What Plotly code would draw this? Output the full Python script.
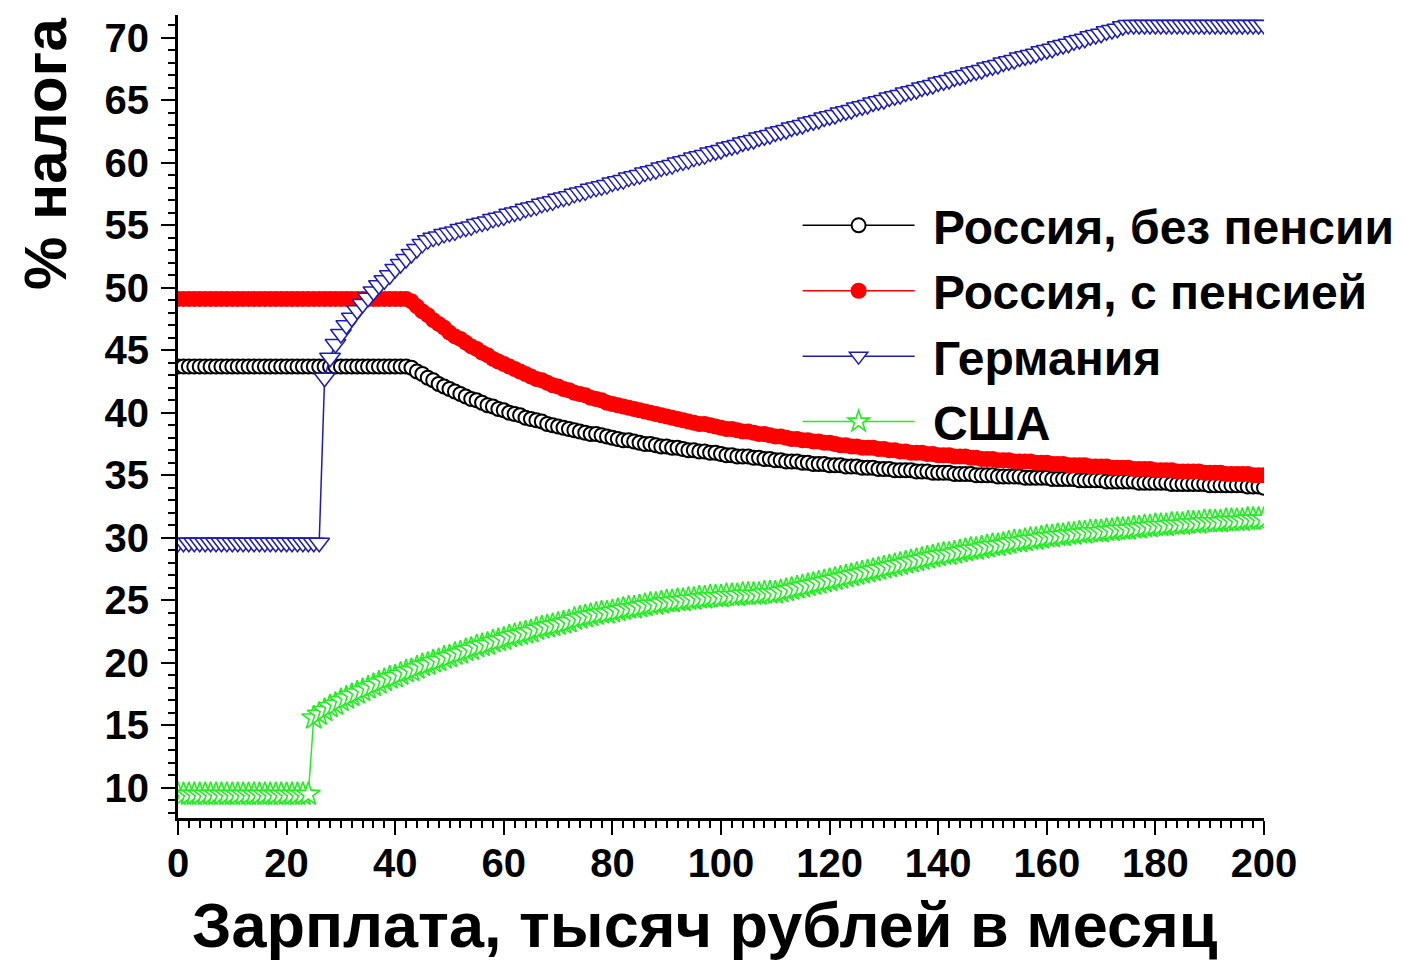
import plotly.graph_objects as go

salary_k = list(range(0, 201))

russia_no_pension = [
    43.7, 43.7, 43.7, 43.7, 43.7, 43.7, 43.7, 43.7, 43.7, 43.7,
    43.7, 43.7, 43.7, 43.7, 43.7, 43.7, 43.7, 43.7, 43.7, 43.7,
    43.7, 43.7, 43.7, 43.7, 43.7, 43.7, 43.7, 43.7, 43.7, 43.7,
    43.7, 43.7, 43.7, 43.7, 43.7, 43.7, 43.7, 43.7, 43.7, 43.7,
    43.7, 43.7, 43.7, 43.6, 43.3, 43.1, 42.8, 42.6, 42.3, 42.1,
    41.9, 41.7, 41.5, 41.3, 41.1, 41.0, 40.8, 40.6, 40.5, 40.3,
    40.2, 40.0, 39.9, 39.8, 39.6, 39.5, 39.4, 39.3, 39.1, 39.0,
    38.9, 38.8, 38.7, 38.6, 38.5, 38.4, 38.3, 38.3, 38.2, 38.1,
    38.0, 37.9, 37.8, 37.8, 37.7, 37.6, 37.5, 37.5, 37.4, 37.3,
    37.3, 37.2, 37.2, 37.1, 37.0, 37.0, 36.9, 36.9, 36.8, 36.8,
    36.7, 36.6, 36.6, 36.5, 36.5, 36.5, 36.4, 36.4, 36.3, 36.3,
    36.2, 36.2, 36.1, 36.1, 36.1, 36.0, 36.0, 35.9, 35.9, 35.9,
    35.8, 35.8, 35.8, 35.7, 35.7, 35.7, 35.6, 35.6, 35.6, 35.5,
    35.5, 35.5, 35.4, 35.4, 35.4, 35.4, 35.3, 35.3, 35.3, 35.2,
    35.2, 35.2, 35.2, 35.1, 35.1, 35.1, 35.1, 35.0, 35.0, 35.0,
    35.0, 34.9, 34.9, 34.9, 34.9, 34.9, 34.8, 34.8, 34.8, 34.8,
    34.8, 34.7, 34.7, 34.7, 34.7, 34.7, 34.6, 34.6, 34.6, 34.6,
    34.6, 34.5, 34.5, 34.5, 34.5, 34.5, 34.5, 34.4, 34.4, 34.4,
    34.4, 34.4, 34.4, 34.3, 34.3, 34.3, 34.3, 34.3, 34.3, 34.3,
    34.2, 34.2, 34.2, 34.2, 34.2, 34.2, 34.2, 34.1, 34.1, 34.1,
    34.0,
]

russia_pension = [
    49.1, 49.1, 49.1, 49.1, 49.1, 49.1, 49.1, 49.1, 49.1, 49.1,
    49.1, 49.1, 49.1, 49.1, 49.1, 49.1, 49.1, 49.1, 49.1, 49.1,
    49.1, 49.1, 49.1, 49.1, 49.1, 49.1, 49.1, 49.1, 49.1, 49.1,
    49.1, 49.1, 49.1, 49.1, 49.1, 49.1, 49.1, 49.1, 49.1, 49.1,
    49.1, 49.1, 49.1, 48.9, 48.5, 48.1, 47.8, 47.4, 47.1, 46.8,
    46.4, 46.1, 45.9, 45.6, 45.3, 45.1, 44.8, 44.6, 44.3, 44.1,
    43.9, 43.7, 43.5, 43.3, 43.1, 42.9, 42.7, 42.6, 42.4, 42.2,
    42.1, 41.9, 41.8, 41.6, 41.5, 41.4, 41.2, 41.1, 41.0, 40.8,
    40.7, 40.6, 40.5, 40.4, 40.3, 40.2, 40.1, 40.0, 39.9, 39.8,
    39.7, 39.6, 39.5, 39.4, 39.3, 39.2, 39.1, 39.1, 39.0, 38.9,
    38.8, 38.7, 38.7, 38.6, 38.5, 38.5, 38.4, 38.3, 38.3, 38.2,
    38.1, 38.1, 38.0, 37.9, 37.9, 37.8, 37.8, 37.7, 37.7, 37.6,
    37.6, 37.5, 37.4, 37.4, 37.3, 37.3, 37.2, 37.2, 37.2, 37.1,
    37.1, 37.0, 37.0, 36.9, 36.9, 36.8, 36.8, 36.8, 36.7, 36.7,
    36.6, 36.6, 36.6, 36.5, 36.5, 36.5, 36.4, 36.4, 36.3, 36.3,
    36.3, 36.2, 36.2, 36.2, 36.1, 36.1, 36.1, 36.1, 36.0, 36.0,
    36.0, 35.9, 35.9, 35.9, 35.8, 35.8, 35.8, 35.8, 35.7, 35.7,
    35.7, 35.7, 35.6, 35.6, 35.6, 35.6, 35.5, 35.5, 35.5, 35.5,
    35.4, 35.4, 35.4, 35.4, 35.3, 35.3, 35.3, 35.3, 35.3, 35.2,
    35.2, 35.2, 35.2, 35.1, 35.1, 35.1, 35.1, 35.1, 35.0, 35.0,
    35.0,
]

germany = [
    29.6, 29.6, 29.6, 29.6, 29.6, 29.6, 29.6, 29.6, 29.6, 29.6,
    29.6, 29.6, 29.6, 29.6, 29.6, 29.6, 29.6, 29.6, 29.6, 29.6,
    29.6, 29.6, 29.6, 29.6, 29.6, 29.6, 29.6, 42.8, 44.4, 45.5,
    46.3, 47.0, 47.6, 48.2, 48.7, 49.2, 49.7, 50.2, 50.6, 51.0,
    51.5, 51.9, 52.3, 52.7, 53.1, 53.5, 53.8, 54.0, 54.1, 54.3,
    54.4, 54.5, 54.7, 54.8, 54.9, 55.1, 55.2, 55.3, 55.5, 55.6,
    55.7, 55.9, 56.0, 56.1, 56.3, 56.4, 56.5, 56.7, 56.8, 56.9,
    57.1, 57.2, 57.3, 57.5, 57.6, 57.7, 57.9, 58.0, 58.1, 58.2,
    58.4, 58.5, 58.6, 58.8, 58.9, 59.0, 59.2, 59.3, 59.4, 59.6,
    59.7, 59.8, 60.0, 60.1, 60.2, 60.4, 60.5, 60.6, 60.8, 60.9,
    61.0, 61.2, 61.3, 61.4, 61.6, 61.7, 61.8, 62.0, 62.1, 62.2,
    62.4, 62.5, 62.6, 62.8, 62.9, 63.0, 63.2, 63.3, 63.4, 63.6,
    63.7, 63.8, 64.0, 64.1, 64.2, 64.4, 64.5, 64.6, 64.8, 64.9,
    65.0, 65.2, 65.3, 65.4, 65.6, 65.7, 65.8, 66.0, 66.1, 66.2,
    66.4, 66.5, 66.6, 66.8, 66.9, 67.0, 67.2, 67.3, 67.4, 67.6,
    67.7, 67.8, 68.0, 68.1, 68.2, 68.4, 68.5, 68.6, 68.7, 68.9,
    69.0, 69.1, 69.3, 69.4, 69.5, 69.7, 69.8, 69.9, 70.1, 70.2,
    70.3, 70.5, 70.6, 70.7, 70.9, 71.0, 71.0, 71.0, 71.0, 71.0,
    71.0, 71.0, 71.0, 71.0, 71.0, 71.0, 71.0, 71.0, 71.0, 71.0,
    71.0, 71.0, 71.0, 71.0, 71.0, 71.0, 71.0, 71.0, 71.0, 71.0,
    71.0,
]

usa = [
    9.5, 9.5, 9.5, 9.5, 9.5, 9.5, 9.5, 9.5, 9.5, 9.5,
    9.5, 9.5, 9.5, 9.5, 9.5, 9.5, 9.5, 9.5, 9.5, 9.5,
    9.5, 9.5, 9.5, 9.5, 9.5, 15.6, 15.9, 16.2, 16.5, 16.7,
    17.0, 17.2, 17.4, 17.6, 17.8, 18.0, 18.2, 18.4, 18.6, 18.8,
    18.9, 19.1, 19.3, 19.4, 19.6, 19.8, 19.9, 20.1, 20.2, 20.4,
    20.5, 20.7, 20.8, 21.0, 21.1, 21.3, 21.4, 21.5, 21.7, 21.8,
    21.9, 22.1, 22.2, 22.3, 22.4, 22.5, 22.7, 22.8, 22.9, 23.0,
    23.1, 23.2, 23.3, 23.5, 23.6, 23.7, 23.8, 23.9, 24.0, 24.0,
    24.1, 24.2, 24.3, 24.4, 24.4, 24.5, 24.6, 24.7, 24.7, 24.8,
    24.9, 24.9, 25.0, 25.0, 25.1, 25.1, 25.2, 25.2, 25.3, 25.3,
    25.3, 25.4, 25.4, 25.4, 25.5, 25.5, 25.5, 25.5, 25.6, 25.6,
    25.6, 25.7, 25.8, 25.9, 26.0, 26.1, 26.2, 26.3, 26.4, 26.5,
    26.6, 26.7, 26.8, 26.9, 27.0, 27.1, 27.2, 27.3, 27.4, 27.5,
    27.6, 27.7, 27.8, 27.9, 28.0, 28.1, 28.2, 28.3, 28.4, 28.5,
    28.6, 28.7, 28.7, 28.8, 28.9, 29.0, 29.1, 29.1, 29.2, 29.3,
    29.4, 29.4, 29.5, 29.6, 29.7, 29.7, 29.8, 29.9, 29.9, 30.0,
    30.1, 30.1, 30.2, 30.2, 30.3, 30.3, 30.4, 30.4, 30.5, 30.5,
    30.5, 30.6, 30.6, 30.7, 30.7, 30.7, 30.8, 30.8, 30.9, 30.9,
    31.0, 31.0, 31.0, 31.1, 31.1, 31.1, 31.2, 31.2, 31.2, 31.3,
    31.3, 31.3, 31.3, 31.4, 31.4, 31.4, 31.4, 31.5, 31.5, 31.5,
    31.5,
]

series_names = ["Россия, без пенсии", "Россия, с пенсией", "Германия", "США"]
x_ticks = [0, 20, 40, 60, 80, 100, 120, 140, 160, 180, 200]
y_ticks = [10, 15, 20, 25, 30, 35, 40, 45, 50, 55, 60, 65, 70]

FONT = "Liberation Sans, Arial, sans-serif"
BLUE = "#1c1cb4"
GREEN = "#22ee22"
NBSP = "\u00a0"

fig = go.Figure()

fig.add_trace(go.Scatter(
    x=salary_k, y=russia_no_pension, name=NBSP + series_names[0], mode="lines+markers",
    line=dict(color="black", width=1.5),
    marker=dict(symbol="circle", size=14, color="white", line=dict(color="black", width=2)),
))
fig.add_trace(go.Scatter(
    x=salary_k, y=russia_pension, name=NBSP + series_names[1], mode="lines+markers",
    line=dict(color="#ff0000", width=1.5),
    marker=dict(symbol="circle", size=16, color="#ff0000", line=dict(color="#ff0000", width=0)),
))
fig.add_trace(go.Scatter(
    x=salary_k, y=germany, name=NBSP + series_names[2], mode="lines+markers",
    line=dict(color=BLUE, width=1.5),
    marker=dict(symbol="triangle-down", size=18, color="white", line=dict(color=BLUE, width=1.5)),
))
fig.add_trace(go.Scatter(
    x=salary_k, y=usa, name=NBSP + series_names[3], mode="lines+markers",
    line=dict(color=GREEN, width=1.5),
    marker=dict(symbol="star", size=18, color="white", line=dict(color=GREEN, width=1.6)),
))

fig.update_layout(
    width=1398, height=955,
    margin=dict(l=170, r=141, t=7, b=145),
    paper_bgcolor="white", plot_bgcolor="white",
    font=dict(family=FONT, color="black"),
    showlegend=True,
    legend=dict(
        x=0.570, y=0.785, xanchor="left", yanchor="top",
        bgcolor="rgba(0,0,0,0)", borderwidth=0,
        font=dict(family=FONT, size=48, color="black", weight="bold"),
        itemwidth=112, tracegroupgap=0,
    ),
    xaxis=dict(
        range=[0, 200], tickmode="array", tickvals=x_ticks,
        ticks="outside", ticklen=14, tickwidth=2, tickcolor="black",
        showline=True, linecolor="black", linewidth=3, mirror=False,
        showgrid=False, zeroline=False, ticklabelstandoff=-6,
        tickfont=dict(family=FONT, size=40, color="black", weight="bold"),
        minor=dict(dtick=2, ticks="outside", ticklen=7, tickwidth=2, tickcolor="black", showgrid=False),
    ),
    yaxis=dict(
        range=[7.6, 71.8], tickmode="array", tickvals=y_ticks,
        ticks="outside", ticklen=14, tickwidth=2, tickcolor="black",
        showline=True, linecolor="black", linewidth=3, mirror=False,
        showgrid=False, zeroline=False, ticklabelstandoff=4,
        tickfont=dict(family=FONT, size=40, color="black", weight="bold"),
        minor=dict(dtick=1, ticks="outside", ticklen=7, tickwidth=2, tickcolor="black", showgrid=False),
    ),
    annotations=[
        dict(text="Зарплата, тысяч рублей в месяц", xref="paper", yref="paper",
             x=0.485, y=-0.133, xanchor="center", yanchor="middle", showarrow=False,
             font=dict(family=FONT, size=63, color="black", weight="bold")),
        dict(text="% налога", xref="paper", yref="paper", textangle=-90,
             x=-0.122, y=1.0, xanchor="center", yanchor="top", showarrow=False,
             font=dict(family=FONT, size=60, color="black", weight="bold")),
    ],
)

fig.write_html("out.html")
